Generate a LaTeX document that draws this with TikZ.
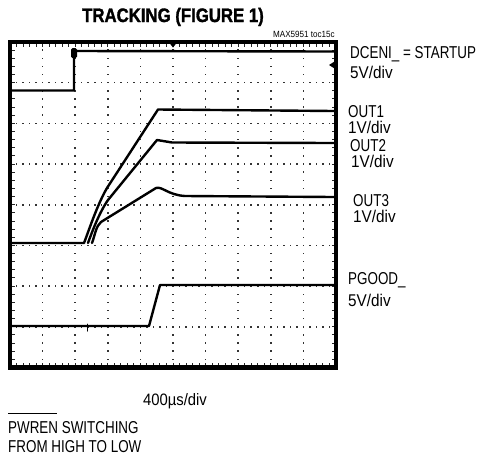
\documentclass[tikz,border=0pt]{standalone}
\usepackage{fontspec}
\setmainfont{Liberation Sans}[FakeStretch=0.78]
\newfontfamily\titlefont{Liberation Sans}[FakeStretch=0.86, FakeBold=1.5]
\newfontfamily\widefont{Liberation Sans}[FakeStretch=0.9]
\tikzset{
  lbl/.style={anchor=base west, inner sep=0pt, font=\fontsize{17.2}{19}\selectfont},
  lblw/.style={anchor=base west, inner sep=0pt, font=\widefont\fontsize{17}{19}\selectfont},
  trace/.style={line width=2.4pt, line join=round, line cap=round, black},
  frameline/.style={line width=4.5pt},
  griddot/.style={fill=black!80},
  tick/.style={line width=1pt, black!85},
  marker/.style={fill=black}
}
\begin{document}
\begin{tikzpicture}[x=1pt,y=-1pt]
\useasboundingbox (0,0) rectangle (481,456);
% title
\node[anchor=base, inner sep=0pt, font=\titlefont\bfseries\fontsize{19.5}{22}\selectfont] (title) at (173,22) {TRACKING (FIGURE 1)};
\node[anchor=base east, inner sep=0pt, font=\widefont\fontsize{9}{10}\selectfont] (toc) at (335,37) {MAX5951 toc15c};
% grid dots
\foreach \i in {1,...,9}{
  \foreach \j in {1,...,39}{
    \fill[griddot] ({10+\i*32.6-0.75},{42+\j*8.1375-0.75}) rectangle ++(1.5,1.5);
  }
}
\foreach \j in {1,...,7}{
  \foreach \i in {1,...,49}{
    \fill[griddot] ({10+\i*6.52-0.75},{42+\j*40.6875-0.75}) rectangle ++(1.5,1.5);
  }
}
% frame ticks
\foreach \i in {1,...,49}{
  \draw[tick] ({10+\i*6.52},42) -- ++(0,4.5);
  \draw[tick] ({10+\i*6.52},367.5) -- ++(0,-4.5);
}
\foreach \j in {1,...,39}{
  \draw[tick] (10,{42+\j*8.1375}) -- ++(4.5,0);
  \draw[tick] (336,{42+\j*8.1375}) -- ++(-4.5,0);
}
% frame
\draw[frameline] (10,42) rectangle (336,367.5);
% markers
\fill[marker] (169.5,43) -- (176.5,43) -- (173,47.5) -- cycle;
\fill[marker, rounded corners=1.5pt] (71,48) rectangle (77,58);
\fill[marker] (329,65) -- (334.5,61.5) -- (334.5,68.5) -- cycle;
% DCENI trace
\draw[trace] (12,90.5) -- (74,90.5) -- (74,51) -- (334,51.5);
% OUT1
\draw[trace] (12,243) -- (84,243) .. controls (88,233) and (97,205) .. (107,188) -- (158,109.5) -- (334,111);
% OUT2
\draw[trace] (88,243) .. controls (92,232) and (99,213) .. (108,200) -- (157,140) -- (172,142.5) -- (334,143);
% OUT3
\draw[trace] (92,243) .. controls (95,235) and (96,226) .. (101,222) -- (156,188) .. controls (162,186) and (168,195) .. (185,196) -- (334,197);
% PGOOD
\draw[trace] (12,326) -- (149,326) -- (160,285) -- (334,285);
\draw[trace, line width=1pt] (87,324) -- (87,331);
% right labels
\node[lbl] (dc1) at (350,58.5) {DCENI\_ = STARTUP};
\node[lblw] (dc2) at (350,78.3) {5V/div};
\node[lbl] (o1a) at (348,117.5) {OUT1};
\node[lblw] (o1b) at (348,133) {1V/div};
\node[lbl] (o2a) at (350,151.5) {OUT2};
\node[lblw] (o2b) at (351,167) {1V/div};
\node[lbl] (o3a) at (353,206.5) {OUT3};
\node[lblw] (o3b) at (353,222) {1V/div};
\node[lbl] (pg1) at (348,284) {PGOOD\_};
\node[lblw] (pg2) at (348,306.5) {5V/div};
% bottom text
\node[anchor=base, inner sep=0pt, font=\widefont\fontsize{16.5}{19}\selectfont] (time) at (175,405) {400µs/div};
\node[lbl] (pw1) at (8,433) {PWREN SWITCHING};
\node[lbl] (pw2) at (8,452) {FROM HIGH TO LOW};
\draw[line width=0.8pt] (8,413.5) -- (57,413.5);
\end{tikzpicture}
\end{document}
